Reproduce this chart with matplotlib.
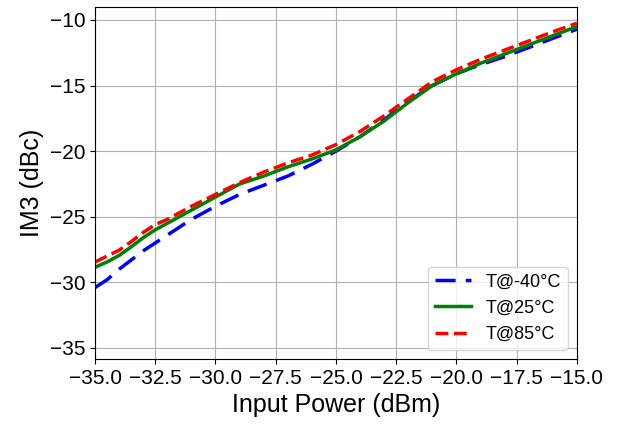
import matplotlib
matplotlib.use('Agg')
import matplotlib.pyplot as plt
import numpy as np

plt.rcParams['font.family'] = ['Liberation Sans', 'DejaVu Sans']

# input power sweep (dBm)
pin = np.array([-35, -34.5, -34, -33.5, -33, -32.5, -32, -31, -30, -29, -28, -27,
                -26, -25, -24, -23, -22, -21, -20, -19, -18, -17, -16, -15])

# IM3 (dBc) per temperature
im3_m40 = np.array([-30.4, -29.8, -29.0, -28.3, -27.6, -27.0, -26.4, -25.2, -24.2, -23.3, -22.6, -21.9,
                    -21.0, -20.0, -18.9, -17.6, -16.2, -15.0, -14.1, -13.4, -12.8, -12.1, -11.4, -10.7])
im3_25 = np.array([-28.85, -28.45, -27.95, -27.3, -26.6, -26.0, -25.5, -24.5, -23.5, -22.5, -21.9, -21.2,
                   -20.6, -19.9, -18.9, -17.7, -16.3, -15.0, -14.1, -13.3, -12.6, -11.9, -11.2, -10.5])
im3_85 = np.array([-28.45, -28.0, -27.55, -26.9, -26.2, -25.6, -25.2, -24.2, -23.3, -22.4, -21.6, -20.9,
                   -20.3, -19.5, -18.5, -17.3, -16.0, -14.7, -13.8, -13.0, -12.3, -11.6, -10.9, -10.25])

labels = ['T@-40°C', 'T@25°C', 'T@85°C']

fig, ax = plt.subplots(figsize=(6.19, 4.29), dpi=100)
fig.subplots_adjust(left=0.1535, right=0.932, bottom=0.163, top=0.984)

ax.plot(pin, im3_m40, color='b', lw=2.5, ls=(0, (5.8, 2.9)), label=labels[0])
ax.plot(pin, im3_25, color='g', lw=2.5, ls='-', label=labels[1])
ax.plot(pin, im3_85, color='r', lw=2.5, ls='--', label=labels[2])

ax.set_xlim(-35, -15)
ax.set_ylim(-35.85, -9.0)
ax.set_xticks(np.arange(-35, -14.9, 2.5))
ax.set_yticks(np.arange(-35, -9, 5))
ax.tick_params(labelsize=15)
ax.grid(True)
ax.set_xlabel('Input Power (dBm)', fontsize=18)
ax.set_ylabel('IM3 (dBc)', fontsize=18)
ax.legend(loc='lower right', fontsize=13)

plt.savefig('out.png', dpi=100)
plt.close()
